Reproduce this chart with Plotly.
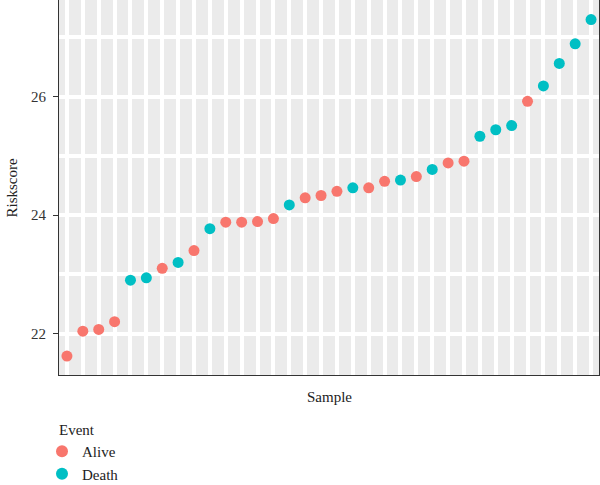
import plotly.graph_objects as go

sample = list(range(1, 35))
riskscore = [21.62, 22.04, 22.07, 22.20, 22.90, 22.94, 23.10, 23.20, 23.40, 23.77,
             23.88, 23.88, 23.89, 23.94, 24.17, 24.29, 24.33, 24.40, 24.46, 24.46,
             24.57, 24.59, 24.65, 24.77, 24.88, 24.91, 25.33, 25.44, 25.51, 25.92,
             26.18, 26.56, 26.89, 27.30]
event = ["Alive", "Alive", "Alive", "Alive", "Death", "Death", "Alive", "Death", "Alive", "Death",
         "Alive", "Alive", "Alive", "Alive", "Death", "Alive", "Alive", "Alive", "Death", "Alive",
         "Alive", "Death", "Alive", "Death", "Alive", "Alive", "Death", "Death", "Death", "Alive",
         "Death", "Death", "Death", "Death"]
y_ticks = [22, 24, 26]
y_minor = [21, 23, 25, 27]
colors = {"Alive": "#F8766D", "Death": "#00BFC4"}

FONT = "Liberation Serif"

fig = go.Figure()
for grp in ["Alive", "Death"]:
    xs = [s for s, e in zip(sample, event) if e == grp]
    ys = [r for r, e in zip(riskscore, event) if e == grp]
    fig.add_trace(go.Scatter(x=xs, y=ys, mode="markers", name=grp,
                             marker=dict(color=colors[grp], size=11, line=dict(width=0))))

fig.update_layout(
    width=600, height=485,
    margin=dict(l=59, r=1, t=0, b=110, autoexpand=False),
    paper_bgcolor="white", plot_bgcolor="#EBEBEB",
    font=dict(family=FONT, size=15, color="#222222"),
    showlegend=True,
    legend=dict(xref="container", yref="container", x=42 / 600, y=0.103,
                xanchor="left", yanchor="top", font=dict(size=15),
                tracegroupgap=0, itemsizing="constant", itemwidth=30),
    annotations=[
        dict(text="Event", xref="paper", yref="paper", x=-2 / 540, y=-55 / 375,
             xanchor="left", yanchor="middle", showarrow=False, font=dict(size=15)),
        dict(text="Riskscore", xref="paper", yref="paper", x=-48 / 540, y=0.5,
             xanchor="center", yanchor="middle", textangle=-90, showarrow=False,
             font=dict(size=15)),
        dict(text="Sample", xref="paper", yref="paper", x=0.5, y=-22 / 375,
             xanchor="center", yanchor="middle", showarrow=False, font=dict(size=15)),
    ],
)
fig.update_xaxes(range=[0.5, 34.5], tickmode="array", tickvals=sample, automargin=False,
                 showticklabels=False, ticks="", showgrid=True, gridcolor="white", gridwidth=3.5,
                 zeroline=False, showline=True, linecolor="#333333", linewidth=1, mirror=True)
fig.update_yaxes(range=[21.30, 27.63], tickmode="array", tickvals=y_ticks, automargin=False,
                 ticks="outside", ticklen=5, tickcolor="#333333", ticklabelstandoff=4,
                 tickfont=dict(size=15, color="#333333"),
                 showgrid=True, gridcolor="white", gridwidth=3.5,
                 minor=dict(tickvals=y_minor, showgrid=True, gridcolor="white", gridwidth=3.5, ticks=""),
                 zeroline=False, showline=True, linecolor="#333333", linewidth=1, mirror=True)

fig.write_html("out.html")
